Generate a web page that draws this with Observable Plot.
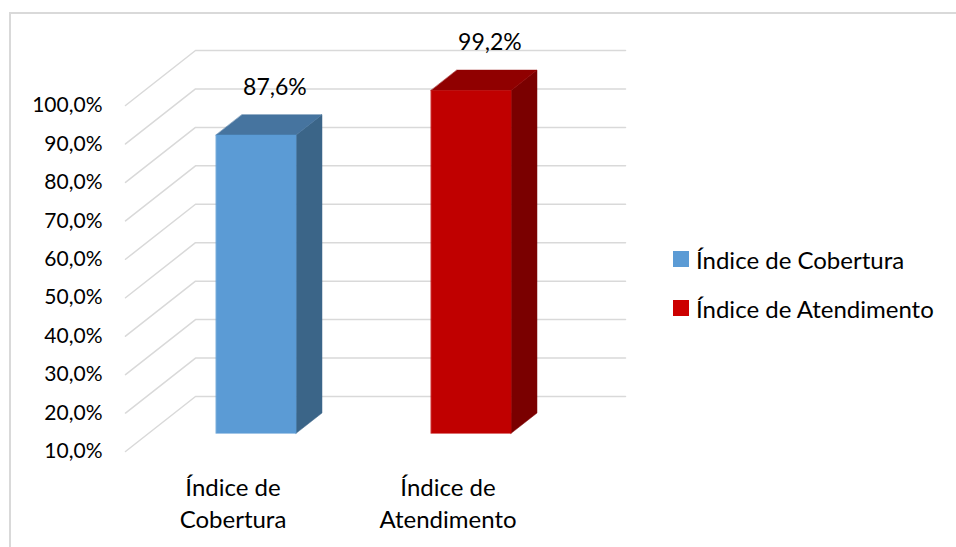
<!DOCTYPE html>
<html>
<head>
<meta charset="utf-8">
<script src="https://cdn.jsdelivr.net/npm/d3@7"></script>
<script src="https://cdn.jsdelivr.net/npm/@observablehq/plot@0.6"></script>
<style>
  html, body { margin: 0; padding: 0; background: #fff; }
  #wrap { position: relative; width: 956px; height: 547px; overflow: hidden; font-family: Lato, sans-serif; }
  #frame { position: absolute; left: 9px; top: 12px; width: 960px; height: 600px; border-top: 2px solid #d9d9d9; border-left: 2px solid #d9d9d9; }
  #chart { position: absolute; left: 0; top: 0; }
  .legend { position: absolute; left: 673px; font-size: 24px; color: #000; display: flex; align-items: center; white-space: nowrap; }
  .legend span.sw { display: inline-block; width: 16px; height: 16px; margin-right: 7px; }
</style>
</head>
<body>
<div id="wrap">
  <div id="frame"></div>
  <div id="chart"></div>
</div>
<script>
const categories = ["Índice de Cobertura", "Índice de Atendimento"];
const categoryLines = ["Índice de\nCobertura", "Índice de\nAtendimento"];
const values = [87.6, 99.2];
const valueLabels = ["87,6%", "99,2%"];
const ticks = [10, 20, 30, 40, 50, 60, 70, 80, 90, 100];
const tickLabels = ["10,0%", "20,0%", "30,0%", "40,0%", "50,0%", "60,0%", "70,0%", "80,0%", "90,0%", "100,0%"];
const frontColors = ["#5B9BD5", "#C00000"];
const topColors = ["#46749F", "#900000"];
const sideColors = ["#3B6588", "#7A0000"];

// oblique projection of depth (0 = front, 1 = back wall)
const DX = 70 / 215;   // category units per full depth
const DY = 14.31;      // percent units per full depth
const T0 = 0.33, T1 = 0.70, HALF = 0.186;
const BASE = 10;

const P = (x, y, t) => ({x: x + t * DX, y: y + t * DY});

// gridlines: left wall diagonal then back wall
const grid = ticks.flatMap(v => [
  {tick: v, ...P(0, v, 0)},
  {tick: v, ...P(0, v, 1)},
  {tick: v, ...P(2, v, 1)}
]);

// bar faces
const faces = values.flatMap((v, i) => {
  const xl = i + 0.5 - HALF, xr = i + 0.5 + HALF;
  const side = [P(xr, BASE, T0), P(xr, BASE, T1), P(xr, v, T1), P(xr, v, T0)]
    .map(p => ({id: "s" + i, color: sideColors[i], ...p}));
  const top = [P(xl, v, T0), P(xr, v, T0), P(xr, v, T1), P(xl, v, T1)]
    .map(p => ({id: "t" + i, color: topColors[i], ...p}));
  const front = [P(xl, BASE, T0), P(xr, BASE, T0), P(xr, v, T0), P(xl, v, T0)]
    .map(p => ({id: "f" + i, color: frontColors[i], ...p}));
  return [...side, ...top, ...front];
});

const chart = Plot.plot({
  width: 956,
  height: 547,
  marginLeft: 125,
  marginRight: 401,
  marginTop: 105,
  marginBottom: 96,
  x: {domain: [0, 2], axis: null},
  y: {domain: [10, 100], axis: null},
  color: {type: "identity"},
  style: {fontFamily: "Lato, sans-serif", background: "transparent", overflow: "visible", color: "#000"},
  marks: [
    Plot.line(grid, {x: "x", y: "y", z: "tick", stroke: "#d9d9d9", strokeWidth: 1.5}),
    Plot.line(faces, {x: "x", y: "y", z: "id", fill: "color", stroke: "color", strokeWidth: 0.5, curve: "linear-closed"}),
    Plot.text(ticks, {x: () => 0, y: d => d, text: (d, i) => tickLabels[i], textAnchor: "end", dx: -23, fontSize: 21, fill: "#000"}),
    Plot.text(categoryLines, {x: (d, i) => i + 0.5, y: () => BASE, text: d => d, dy: 50, lineAnchor: "middle", lineHeight: 1.33, fontSize: 24, fill: "#000"}),
    Plot.text(values, {x: (d, i) => i + 0.5 + 0.195, y: d => d + T1 * DY, text: (d, i) => valueLabels[i], dy: -27, fontSize: 23, fill: "#000"})
  ]
});
document.getElementById("chart").appendChild(chart);

// legend
const wrap = document.getElementById("wrap");
const legendTops = [259, 308];
categories.forEach((c, i) => {
  const el = document.createElement("div");
  el.className = "legend";
  el.style.top = (legendTops[i] - 16) + "px";
  el.style.height = "32px";
  const sw = document.createElement("span");
  sw.className = "sw";
  sw.style.background = i === 0 ? frontColors[0] : "#CC0000";
  el.appendChild(sw);
  el.appendChild(document.createTextNode(c));
  wrap.appendChild(el);
});
</script>
</body>
</html>
